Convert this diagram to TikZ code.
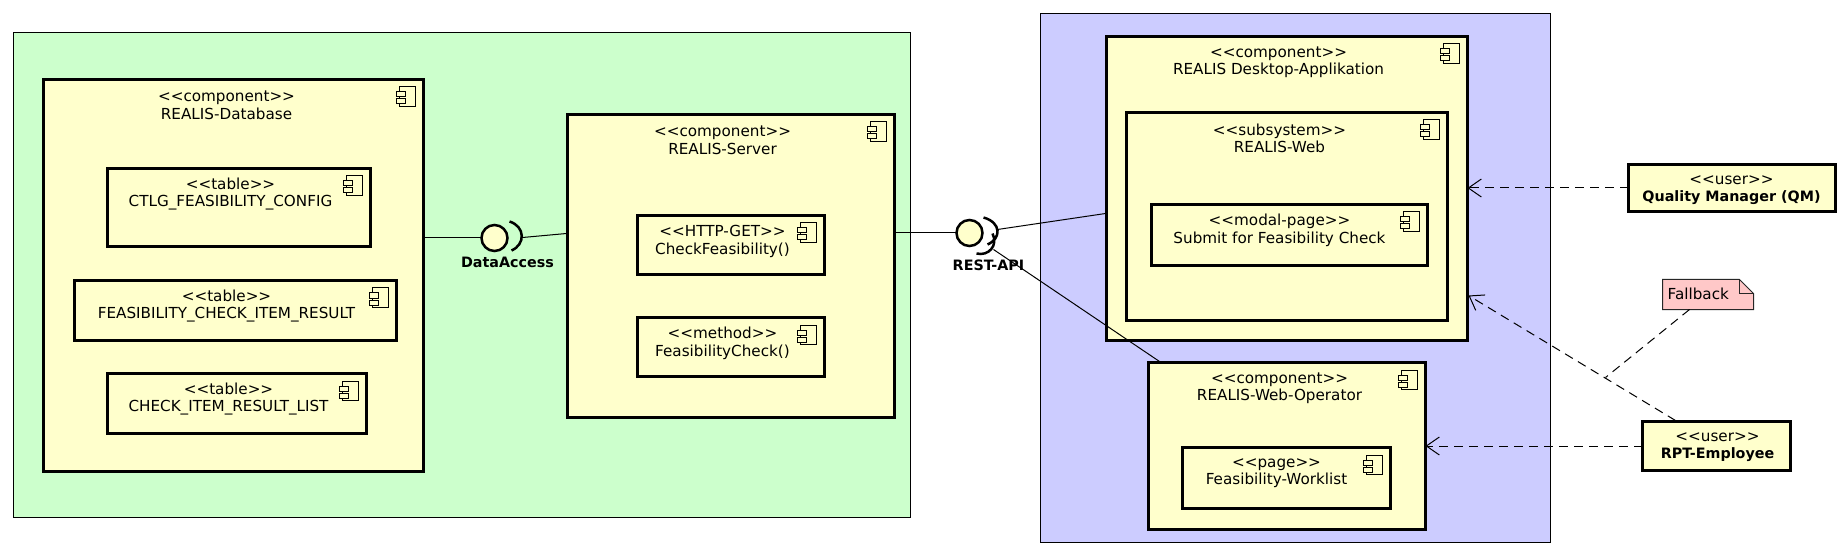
\documentclass[tikz,border=0pt]{standalone}
\usepackage{fontspec}
\setmainfont{DejaVu Sans}
\usetikzlibrary{arrows.meta}
\definecolor{pkggreen}{HTML}{CCFFCC}
\definecolor{pkgblue}{HTML}{CCCCFF}
\definecolor{compyellow}{HTML}{FFFFCC}
\definecolor{notepink}{HTML}{FFC8C8}
\tikzset{
  pkgbox/.style={draw=black,line width=1pt,inner sep=0pt,outer sep=0pt,anchor=north west},
  compbox/.style={draw=black,fill=compyellow,line width=3pt,inner sep=0pt,outer sep=0pt,anchor=north west},
  boxtext/.style={align=center,inner sep=0pt,font=\fontsize{15.2}{17.6}\selectfont},
  ifacelabel/.style={inner sep=0pt,font=\fontsize{14.3}{16}\selectfont\bfseries},
  iface/.style={circle,draw=black,fill=compyellow,line width=2.5pt,minimum size=26pt,inner sep=0pt,outer sep=0pt},
  socket/.style={draw=black,line width=2.5pt},
  link/.style={draw=black,line width=1pt},
  dep/.style={draw=black,line width=1pt,dash pattern=on 9pt off 6pt,-{Straight Barb[length=13pt,width=18pt,line width=1pt]}},
  notelink/.style={draw=black,line width=1pt,dash pattern=on 9pt off 6pt},
  pics/compicon/.style={code={
    \draw[black,line width=1pt,fill=compyellow] (-16,0) rectangle (0,19.5);
    \draw[black,line width=1pt,fill=compyellow] (-19,5) rectangle (-10,10);
    \draw[black,line width=1pt,fill=compyellow] (-19,12) rectangle (-10,17);
  }}
}
\newcommand{\cbox}[9]{%
  \node[compbox,minimum width={(#3-#1)*1pt},minimum height={(#4-#2)*1pt}] (#5) at (#1,#2) {};
  \node[boxtext] (#5-t) at (#6,#2+25.7) {#7\\#8};
  \ifx#9y\pic at ([xshift=-8pt,yshift=-7.5pt]#5.north east) {compicon};\fi
}
\newcommand{\boldname}[1]{{\fontsize{14.3}{17.6}\selectfont\bfseries #1}}
\begin{document}
\begin{tikzpicture}[x=1pt,y=-1pt]
\useasboundingbox (-0.5,-0.5) rectangle (1847.5,555.5);
% packages
\node[pkgbox,fill=pkggreen,minimum width=897pt,minimum height=485pt] (pkgdb) at (13,32) {};
\node[pkgbox,fill=pkgblue,minimum width=510pt,minimum height=529pt] (pkgui) at (1040,13) {};
% components
\cbox{43}{79}{423}{471}{db}{226}{<{}<component>{}>}{REALIS-Database}{y}
\cbox{106.5}{168}{370}{246}{tone}{230}{<{}<table>{}>}{CTLG\_FEASIBILITY\_CONFIG}{y}
\cbox{73.5}{280}{395.5}{340}{ttwo}{226}{<{}<table>{}>}{FEASIBILITY\_CHECK\_ITEM\_RESULT}{y}
\cbox{106.5}{373}{366}{433}{tthree}{228}{<{}<table>{}>}{CHECK\_ITEM\_RESULT\_LIST}{y}
\cbox{566.5}{114}{893.5}{417}{srv}{722}{<{}<component>{}>}{REALIS-Server}{y}
\cbox{636.5}{215}{824}{274}{http}{722}{<{}<HTTP-GET>{}>}{CheckFeasibility()}{y}
\cbox{636.5}{317}{824}{376}{meth}{722}{<{}<method>{}>}{FeasibilityCheck()}{y}
\cbox{1106}{36}{1467}{340}{desk}{1278}{<{}<component>{}>}{REALIS Desktop-Applikation}{y}
\cbox{1126}{112}{1447}{320}{web}{1279}{<{}<subsystem>{}>}{REALIS-Web}{y}
\cbox{1151}{204}{1427}{265}{modal}{1279}{<{}<modal-page>{}>}{Submit for Feasibility Check}{y}
\cbox{1148}{362}{1425}{529}{oper}{1279}{<{}<component>{}>}{REALIS-Web-Operator}{y}
\cbox{1182}{447}{1390}{508}{work}{1276}{<{}<page>{}>}{Feasibility-Worklist}{y}
\cbox{1628}{164}{1835}{211}{qm}{1731}{<{}<user>{}>}{\boldname{Quality Manager (QM)}}{n}
\cbox{1642}{421}{1790}{470}{rpt}{1717}{<{}<user>{}>}{\boldname{RPT-Employee}}{n}
% note
\node[inner sep=0pt,outer sep=0pt,minimum width=91pt,minimum height=30pt,anchor=north west] (fb) at (1662,279) {};
\draw[draw=black!85,fill=notepink,line width=1pt] (1662,279) -- (1739,279) -- (1753,293) -- (1753,309) -- (1662,309) -- cycle;
\draw[draw=black!85,line width=1pt] (1739,279) -- (1739,293) -- (1753,293);
\node[inner sep=0pt,anchor=west,font=\fontsize{15.2}{17}\selectfont] (fbt) at (1667,293) {Fallback};
% interface anchors
\coordinate (dbend) at (423,237.5);
\coordinate (srvend) at (566,233);
\coordinate (sockda) at (522,237);
\coordinate (srvout) at (894,232.5);
\coordinate (deskin) at (1105,213);
\coordinate (opin) at (1159,361);
\coordinate (sockone) at (997,229);
\coordinate (socktwo) at (993,249);
\node[iface] (da) at (494,237.5) {};
\node[iface] (ra) at (969,232.5) {};
\node[ifacelabel] (dal) at (507,261.5) {DataAccess};
\node[ifacelabel] (ral) at (988,265) {REST-API};
% links
\draw[link] (dbend) -- (da);
\draw[link] (sockda) -- (srvend);
\draw[link] (srvout) -- (ra);
\draw[link] (sockone) -- (deskin);
\draw[link] (socktwo) -- (opin);
\draw[socket] (509,221) .. controls (525,226) and (525,244) .. (511,250);
\draw[socket] (983,217) .. controls (1001,222) and (1001,238) .. (987,244);
\draw[socket] (992,233) .. controls (998,245) and (988,256) .. (976,253);
% dependencies
\coordinate (deskfb) at (1468,295);
\coordinate (rptfb) at (1675,420);
\coordinate (fbend) at (1605,377);
\coordinate (fbout) at (1689,309);
\draw[dep] (qm.west) -- (desk.east |- qm.west);
\draw[dep] (rptfb) -- (deskfb);
\draw[dep] (rpt.west) -- (oper.east |- rpt.west);
\draw[notelink] (fbout) -- (fbend);
\end{tikzpicture}
\end{document}
